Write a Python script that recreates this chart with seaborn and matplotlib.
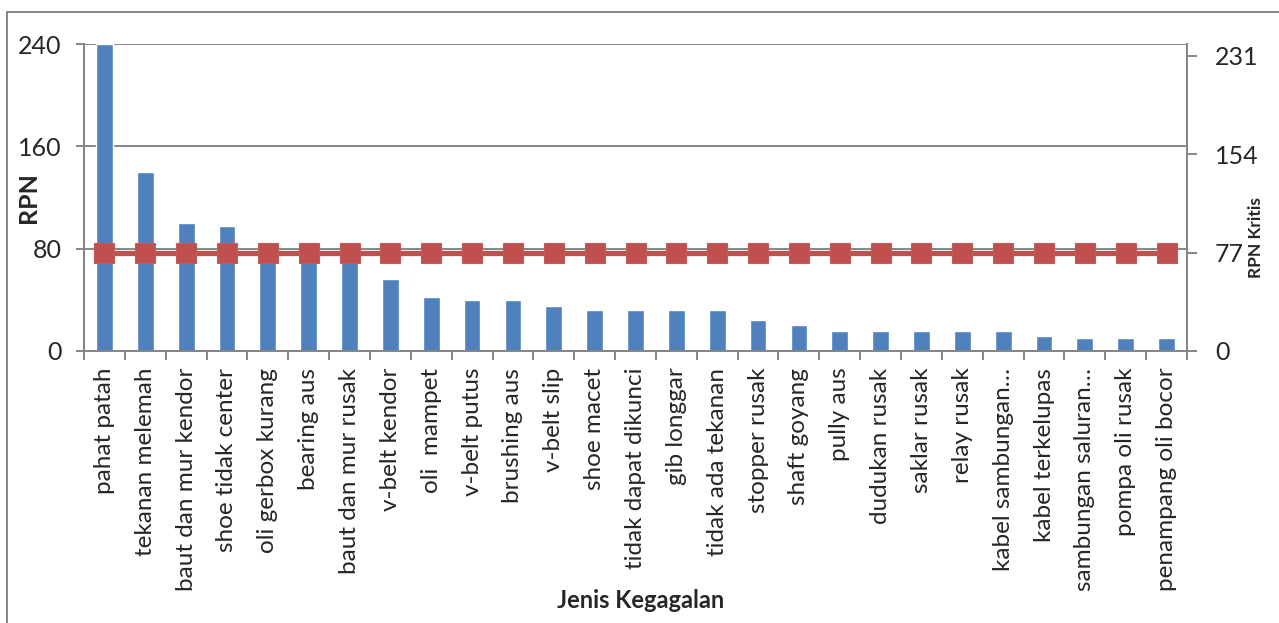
import numpy as np
import pandas as pd
import matplotlib
matplotlib.use("Agg")
import matplotlib.pyplot as plt
import matplotlib.patches as mpatches
from matplotlib.ticker import FixedLocator
import seaborn as sns

categories = [
    "pahat patah", "tekanan melemah", "baut dan mur kendor", "shoe tidak center",
    "oli gerbox kurang", "bearing aus", "baut dan mur rusak", "v-belt kendor",
    "oli  mampet", "v-belt putus", "brushing aus", "v-belt slip", "shoe macet",
    "tidak dapat dikunci", "gib longgar", "tidak ada tekanan", "stopper rusak",
    "shaft goyang", "pully aus", "dudukan rusak", "saklar rusak", "relay rusak",
    "kabel sambungan…", "kabel terkelupas", "sambungan saluran…", "pompa oli rusak",
    "penampang oli bocor",
]
rpn = [240, 140, 100, 98, 80, 80, 80, 56, 42, 40, 40, 35, 32, 32, 32, 32, 24, 20,
       16, 16, 16, 16, 16, 12, 10, 10, 10]
rpn_kritis = [77, 77, 77, 77, 77, 77, 77, 77, 77, 77, 77, 77, 77, 77, 77, 77, 77,
              77, 77, 77, 77, 77, 77, 77, 77, 77, 77]
left_ticks = [0, 80, 160, 240]
right_ticks = [0, 77, 154, 231]

sns.set_theme(style="white")
plt.rcParams['font.family'] = ['Lato', 'DejaVu Sans']

W, H = 1279, 623
fig = plt.figure(figsize=(W / 100, H / 100), dpi=100)
ax = fig.add_axes([84 / W, 1 - 351 / H, (1187 - 84) / W, (351 - 44) / H])

df = pd.DataFrame({"cat": categories, "rpn": rpn})
sns.barplot(data=df, x="cat", y="rpn", order=categories, color="#4F81BD",
            saturation=1, width=0.41, ax=ax, zorder=2)

grey = "#868686"
ax.set_xlim(-0.5, len(categories) - 0.5)
ax.set_ylim(0, 240)
ax.set_yticks(left_ticks)
ax.set_yticklabels([str(v) for v in left_ticks], fontsize=18)
ax.yaxis.grid(True, color=grey, lw=1.4)
ax.set_axisbelow(True)
ax.xaxis.grid(False)
ax.set_xlabel("")
ax.set_ylabel("")
ax.set_xticks(range(len(categories)))
ax.set_xticklabels(categories, rotation=90, fontsize=17.5)
ax.tick_params(axis="x", which="major", length=0, pad=12)
ax.xaxis.set_minor_locator(FixedLocator(np.arange(-0.5, len(categories), 1.0)))
ax.tick_params(axis="x", which="minor", length=6.5, width=1.4, color=grey, bottom=True)
ax.tick_params(axis="y", left=True, length=6, width=1.4, color=grey, pad=10)
for s in ["left", "bottom", "right"]:
    ax.spines[s].set_color(grey)
    ax.spines[s].set_linewidth(1.4)
ax.spines["top"].set_visible(False)

ax2 = ax.twinx()
sns.lineplot(x=np.arange(len(categories)), y=rpn_kritis, ax=ax2, color="#C0504D",
             lw=3.8, marker="s", markersize=14, markeredgecolor="#C55A57",
             markeredgewidth=0.8, zorder=3)
ax2.set_ylim(0, 240)
ax2.set_yticks(right_ticks)
ax2.set_yticklabels([str(v) for v in right_ticks], fontsize=18)
ax2.tick_params(axis="y", right=True, length=7, width=1.4, color=grey, pad=13)
ax2.grid(False)
ax2.set_ylabel("")
for s in ["left", "bottom", "right"]:
    ax2.spines[s].set_color(grey)
    ax2.spines[s].set_linewidth(1.4)
ax2.spines["top"].set_visible(False)

fig.text(28 / W, 1 - 198 / H, "RPN", rotation=90, fontsize=18, fontweight="bold",
         ha="center", va="center")
fig.text(1256 / W, 1 - 238 / H, "RPN Kritis", rotation=90, fontsize=12.5,
         fontweight="bold", ha="center", va="center")
fig.text(641 / W, 1 - 600 / H, "Jenis Kegagalan", fontsize=17, fontweight="bold",
         ha="center", va="center")

border = mpatches.Rectangle((7 / W, -0.05), 1.2, 1 - 12 / H + 0.05,
                            transform=fig.transFigure, fill=False,
                            edgecolor=grey, lw=1.4)
fig.patches.append(border)

fig.savefig("out.png", dpi=100)
